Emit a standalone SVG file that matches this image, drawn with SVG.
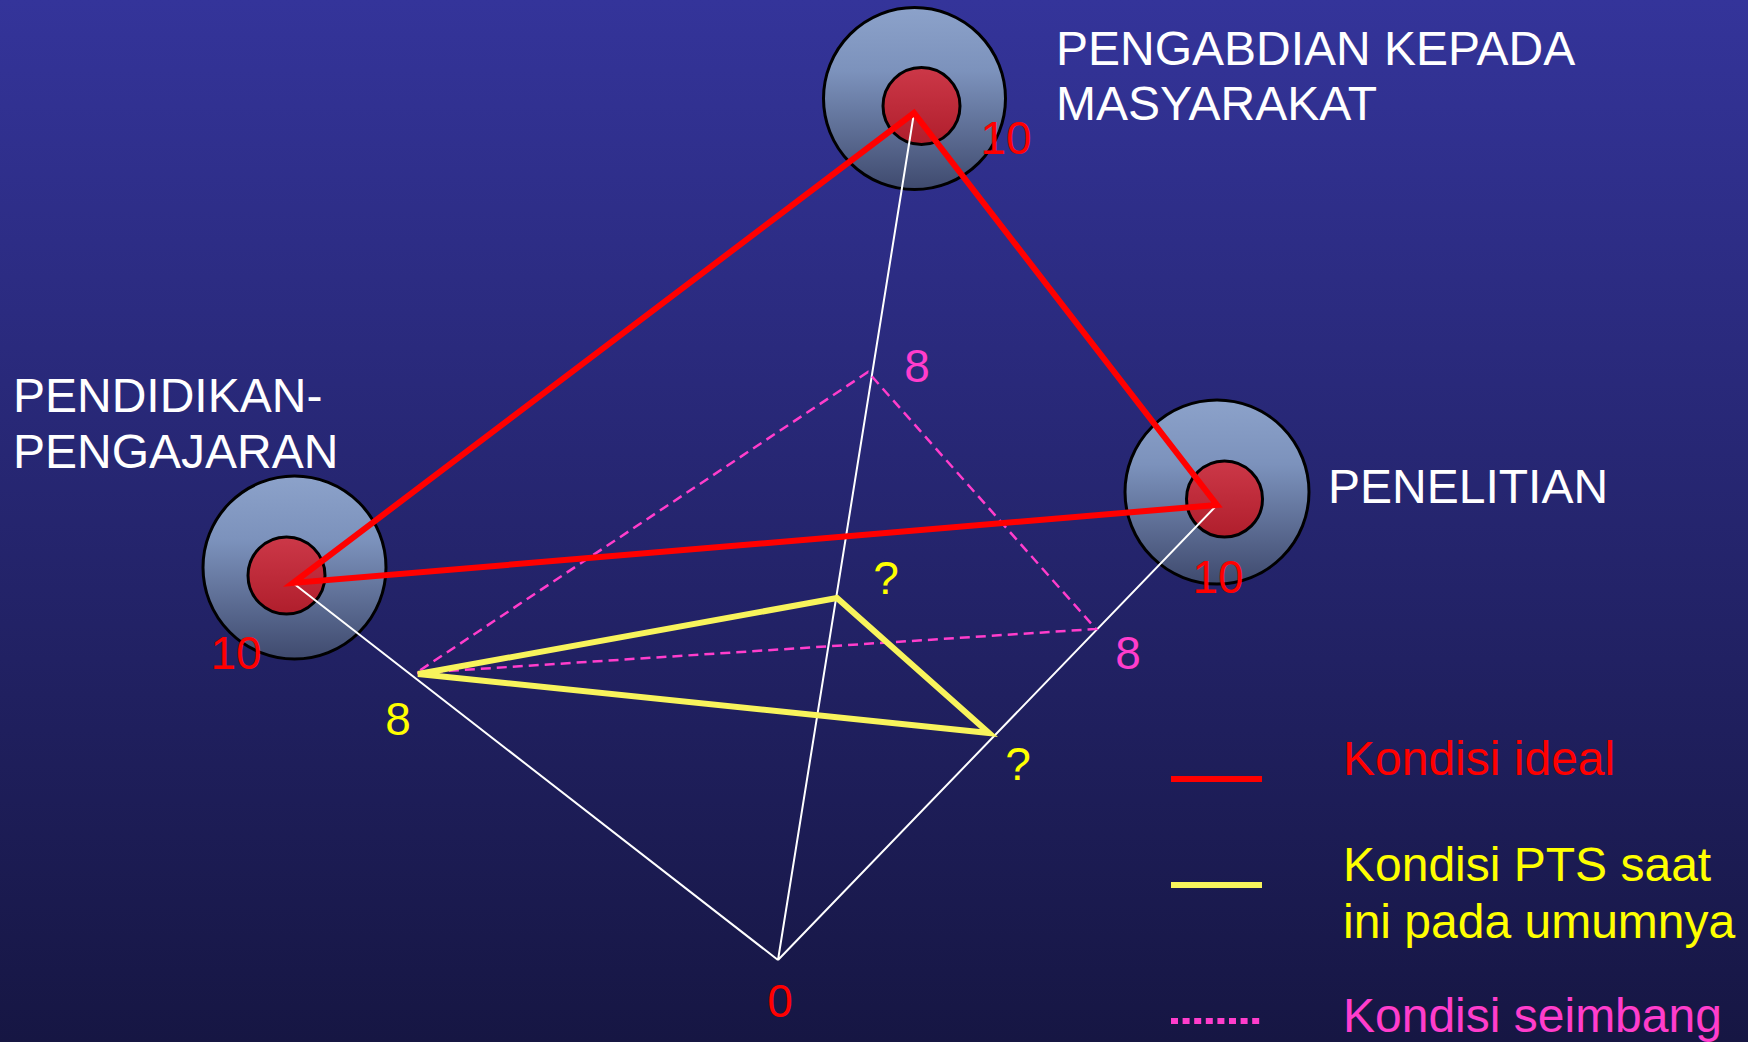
<svg xmlns="http://www.w3.org/2000/svg" width="1748" height="1042" viewBox="0 0 1748 1042">
  <defs>
    <linearGradient id="bg" x1="0" y1="0" x2="0" y2="1">
      <stop offset="0" stop-color="#34349A"/>
      <stop offset="1" stop-color="#161643"/>
    </linearGradient>
    <linearGradient id="outerFill" x1="0" y1="0" x2="0" y2="1">
      <stop offset="0" stop-color="#8CA2CA"/>
      <stop offset="0.35" stop-color="#7C92BC"/>
      <stop offset="1" stop-color="#3F4A6E"/>
    </linearGradient>
    <linearGradient id="innerFill" x1="0" y1="0" x2="0" y2="1">
      <stop offset="0" stop-color="#CC3848"/>
      <stop offset="1" stop-color="#B01E2C"/>
    </linearGradient>
    <style>
      .lbl { font-family: "Liberation Sans", Arial, sans-serif; font-size: 48px; fill: #FFFFFF; }
      .num { font-family: "Liberation Sans", Arial, sans-serif; font-size: 46px; }
      .red { fill: #FF0000; }
      .yel { fill: #FFFF00; }
      .mag { fill: #FF3DCC; }
      .outer { fill: url(#outerFill); stroke: #000000; stroke-width: 3; }
      .inner { fill: url(#innerFill); stroke: #000000; stroke-width: 3; }
      .axis { fill: none; stroke: #FFFFFF; stroke-width: 2; }
      .ideal { fill: none; stroke: #FF0000; stroke-width: 6; stroke-linejoin: miter; }
      .current { fill: none; stroke: #F8F45C; stroke-width: 6; stroke-linejoin: miter; }
      .balanced { fill: none; stroke: #FF3DCC; stroke-width: 2.5; stroke-dasharray: 10 6; }
    </style>
  </defs>

  <rect x="0" y="0" width="1748" height="1042" fill="url(#bg)"/>

  <!-- nodes: the three dharma axes -->
  <g id="node-pengabdian">
    <circle class="outer" cx="914.5" cy="98.5" r="91"/>
    <circle class="inner" cx="921.5" cy="106" r="38.5"/>
    <text class="lbl" x="1056" y="65">PENGABDIAN KEPADA</text>
    <text class="lbl" x="1056" y="120">MASYARAKAT</text>
  </g>
  <g id="node-pendidikan">
    <circle class="outer" cx="294.5" cy="567.5" r="91.5"/>
    <circle class="inner" cx="286.5" cy="575.5" r="38.5"/>
    <text class="lbl" x="13" y="412">PENDIDIKAN-</text>
    <text class="lbl" x="13" y="468">PENGAJARAN</text>
  </g>
  <g id="node-penelitian">
    <circle class="outer" cx="1217" cy="492" r="92"/>
    <circle class="inner" cx="1224.5" cy="499" r="38"/>
    <text class="lbl" x="1328" y="503">PENELITIAN</text>
  </g>

  <!-- connectors: axes, balanced, current and ideal triangles -->
  <g id="connectors">
    <path class="axis" d="M914 113 L778 960 M293 583 L778 960 M1217 505 L778 960"/>
    <polygon class="balanced" points="868,372 416,673 1096,629"/>
    <polygon class="current" points="418,674 837,598 989,733"/>
    <polygon class="ideal" points="914,113 293,583 1217,505"/>
  </g>

  <!-- scale values -->
  <g id="values">
    <text class="num red" x="1006" y="154" text-anchor="middle">10</text>
    <text class="num red" x="236" y="669" text-anchor="middle">10</text>
    <text class="num red" x="1218" y="593" text-anchor="middle">10</text>
    <text class="num red" x="780" y="1017" text-anchor="middle" font-size="48">0</text>
    <text class="num yel" x="398" y="735" text-anchor="middle">8</text>
    <text class="num mag" x="917" y="382" text-anchor="middle">8</text>
    <text class="num mag" x="1128" y="669" text-anchor="middle">8</text>
    <text class="num yel" x="886" y="594" text-anchor="middle">?</text>
    <text class="num yel" x="1018" y="780" text-anchor="middle">?</text>
  </g>

  <!-- legend -->
  <g id="legend">
    <line x1="1171" y1="779" x2="1262" y2="779" stroke="#FF0000" stroke-width="6"/>
    <text class="lbl red" x="1343" y="775">Kondisi ideal</text>
    <line x1="1171" y1="885" x2="1262" y2="885" stroke="#F8F45C" stroke-width="6"/>
    <text class="lbl yel" x="1343" y="881">Kondisi PTS saat</text>
    <text class="lbl yel" x="1343" y="938">ini pada umumnya</text>
    <line x1="1171" y1="1021" x2="1262" y2="1021" stroke="#FF3DCC" stroke-width="6" stroke-dasharray="7 4.6"/>
    <text class="lbl mag" x="1343" y="1032">Kondisi seimbang</text>
  </g>
</svg>
